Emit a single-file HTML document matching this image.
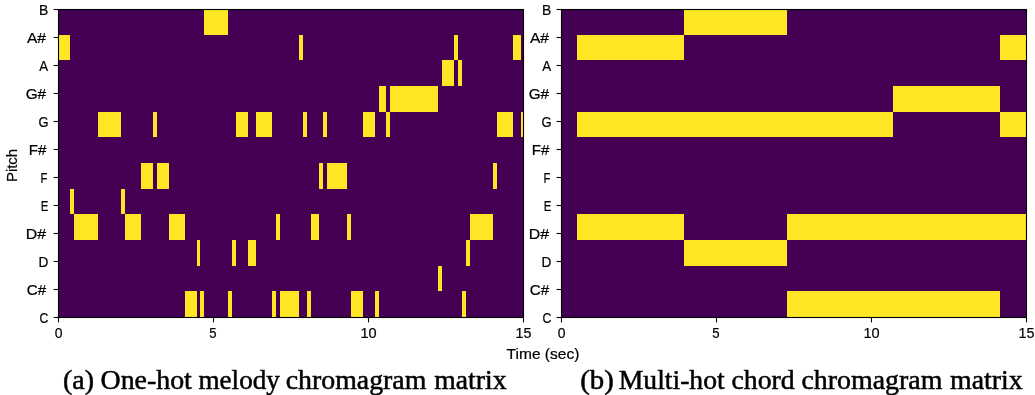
<!DOCTYPE html>
<html><head><meta charset="utf-8"><title>chromagram</title>
<style>
html,body{margin:0;padding:0;background:#fff;}
body{width:1035px;height:395px;overflow:hidden;font-family:"Liberation Sans",sans-serif;}
svg{display:block;position:absolute;left:0;top:0;}
.t{font-family:"Liberation Sans",sans-serif;fill:#000;stroke:#000;stroke-width:0.22px;}
.c{font-family:"Liberation Serif",serif;fill:#000;}
</style></head><body>
<svg width="1035" height="395" viewBox="0 0 1035 395">
<rect x="0" y="0" width="1035" height="395" fill="#fff"/>
<rect x="58.5" y="9.5" width="465.00" height="308.00" fill="#440154"/>
<rect x="561.5" y="9.5" width="465.00" height="308.00" fill="#440154"/>
<g fill="#fde725" shape-rendering="auto">
<rect x="58.5" y="35" width="11.5" height="25"/>
<rect x="70" y="189" width="4" height="25"/>
<rect x="74" y="214" width="24" height="26"/>
<rect x="98" y="112" width="23" height="25"/>
<rect x="121" y="189" width="4" height="25"/>
<rect x="125" y="214" width="16" height="26"/>
<rect x="141" y="163" width="12" height="26"/>
<rect x="153" y="112" width="4" height="25"/>
<rect x="157" y="163" width="12" height="26"/>
<rect x="169" y="214" width="16" height="26"/>
<rect x="185" y="291" width="12" height="26.5"/>
<rect x="197" y="240" width="3" height="26"/>
<rect x="200" y="291" width="4" height="26.5"/>
<rect x="204" y="9.5" width="24" height="25.5"/>
<rect x="228" y="291" width="4" height="26.5"/>
<rect x="232" y="240" width="4" height="26"/>
<rect x="236" y="112" width="12" height="25"/>
<rect x="248" y="240" width="8" height="26"/>
<rect x="256" y="112" width="16" height="25"/>
<rect x="272" y="291" width="4" height="26.5"/>
<rect x="276" y="214" width="4" height="26"/>
<rect x="280" y="291" width="19" height="26.5"/>
<rect x="299" y="35" width="4" height="25"/>
<rect x="303" y="112" width="4" height="25"/>
<rect x="307" y="291" width="4" height="26.5"/>
<rect x="311" y="214" width="8" height="26"/>
<rect x="319" y="163" width="4" height="26"/>
<rect x="323" y="112" width="4" height="25"/>
<rect x="327" y="163" width="20" height="26"/>
<rect x="347" y="214" width="4" height="26"/>
<rect x="351" y="291" width="12" height="26.5"/>
<rect x="363" y="112" width="12" height="25"/>
<rect x="375" y="291" width="4" height="26.5"/>
<rect x="379" y="86" width="7" height="26"/>
<rect x="386" y="112" width="4" height="25"/>
<rect x="390" y="86" width="48" height="26"/>
<rect x="438" y="266" width="4" height="25"/>
<rect x="442" y="60" width="12" height="26"/>
<rect x="454" y="35" width="4" height="25"/>
<rect x="458" y="60" width="4" height="26"/>
<rect x="462" y="291" width="4" height="26.5"/>
<rect x="466" y="240" width="4" height="26"/>
<rect x="470" y="214" width="23" height="26"/>
<rect x="493" y="163" width="4" height="26"/>
<rect x="497" y="112" width="16" height="25"/>
<rect x="513" y="35" width="8" height="25"/>
<rect x="521" y="112" width="2.5" height="25"/>
<rect x="684" y="9.5" width="103" height="25.5"/>
<rect x="577" y="35" width="107" height="25"/>
<rect x="1000" y="35" width="26.5" height="25"/>
<rect x="893" y="86" width="107" height="26"/>
<rect x="577" y="112" width="316" height="25"/>
<rect x="1000" y="112" width="26.5" height="25"/>
<rect x="577" y="214" width="107" height="26"/>
<rect x="787" y="214" width="239.5" height="26"/>
<rect x="684" y="240" width="103" height="26"/>
<rect x="787" y="291" width="213" height="26.5"/>
</g>
<g stroke="#000" stroke-width="1.1" fill="none" stroke-linecap="butt">
<rect x="58.5" y="9.5" width="465.00" height="308.00" />
<line x1="53.60" y1="9.50" x2="58.5" y2="9.50"/>
<line x1="53.60" y1="37.50" x2="58.5" y2="37.50"/>
<line x1="53.60" y1="65.50" x2="58.5" y2="65.50"/>
<line x1="53.60" y1="93.50" x2="58.5" y2="93.50"/>
<line x1="53.60" y1="121.50" x2="58.5" y2="121.50"/>
<line x1="53.60" y1="149.50" x2="58.5" y2="149.50"/>
<line x1="53.60" y1="177.50" x2="58.5" y2="177.50"/>
<line x1="53.60" y1="205.50" x2="58.5" y2="205.50"/>
<line x1="53.60" y1="233.50" x2="58.5" y2="233.50"/>
<line x1="53.60" y1="261.50" x2="58.5" y2="261.50"/>
<line x1="53.60" y1="289.50" x2="58.5" y2="289.50"/>
<line x1="53.60" y1="317.50" x2="58.5" y2="317.50"/>
<line x1="58.50" y1="317.5" x2="58.50" y2="322.40"/>
<line x1="213.50" y1="317.5" x2="213.50" y2="322.40"/>
<line x1="368.50" y1="317.5" x2="368.50" y2="322.40"/>
<line x1="523.50" y1="317.5" x2="523.50" y2="322.40"/>
<rect x="561.5" y="9.5" width="465.00" height="308.00" />
<line x1="556.60" y1="9.50" x2="561.5" y2="9.50"/>
<line x1="556.60" y1="37.50" x2="561.5" y2="37.50"/>
<line x1="556.60" y1="65.50" x2="561.5" y2="65.50"/>
<line x1="556.60" y1="93.50" x2="561.5" y2="93.50"/>
<line x1="556.60" y1="121.50" x2="561.5" y2="121.50"/>
<line x1="556.60" y1="149.50" x2="561.5" y2="149.50"/>
<line x1="556.60" y1="177.50" x2="561.5" y2="177.50"/>
<line x1="556.60" y1="205.50" x2="561.5" y2="205.50"/>
<line x1="556.60" y1="233.50" x2="561.5" y2="233.50"/>
<line x1="556.60" y1="261.50" x2="561.5" y2="261.50"/>
<line x1="556.60" y1="289.50" x2="561.5" y2="289.50"/>
<line x1="556.60" y1="317.50" x2="561.5" y2="317.50"/>
<line x1="561.50" y1="317.5" x2="561.50" y2="322.40"/>
<line x1="716.50" y1="317.5" x2="716.50" y2="322.40"/>
<line x1="871.50" y1="317.5" x2="871.50" y2="322.40"/>
<line x1="1026.50" y1="317.5" x2="1026.50" y2="322.40"/>
</g>
<g opacity="0.999">
<text class="t" font-size="13.99" transform="translate(39.11,14.61) scale(0.9941,1)">B</text>
<text class="t" font-size="13.99" transform="translate(26.98,42.61) scale(1.1154,1)">A#</text>
<text class="t" font-size="13.99" transform="translate(39.35,70.61) scale(0.9507,1)">A</text>
<text class="t" font-size="13.99" transform="translate(25.68,98.61) scale(1.0922,1)">G#</text>
<text class="t" font-size="13.99" transform="translate(38.57,126.61) scale(0.9205,1)">G</text>
<text class="t" font-size="13.99" transform="translate(28.70,154.61) scale(1.0820,1)">F#</text>
<text class="t" font-size="13.99" transform="translate(40.57,182.61) scale(0.8089,1)">F</text>
<text class="t" font-size="13.99" transform="translate(40.72,210.61) scale(0.8179,1)">E</text>
<text class="t" font-size="13.99" transform="translate(25.77,238.61) scale(1.1352,1)">D#</text>
<text class="t" font-size="13.99" transform="translate(38.41,266.61) scale(0.9764,1)">D</text>
<text class="t" font-size="13.99" transform="translate(26.69,294.61) scale(1.0832,1)">C#</text>
<text class="t" font-size="13.99" transform="translate(39.60,322.61) scale(0.8761,1)">C</text>
<text class="t" font-size="13.99" transform="translate(54.63,337.60) scale(0.9949,1)">0</text>
<text class="t" font-size="13.99" transform="translate(209.29,337.60) scale(0.9389,1)">5</text>
<text class="t" font-size="13.99" transform="translate(360.45,337.60) scale(1.0376,1)">10</text>
<text class="t" font-size="13.99" transform="translate(515.46,337.60) scale(1.0207,1)">15</text>
<text class="t" font-size="13.99" transform="translate(542.11,14.61) scale(0.9941,1)">B</text>
<text class="t" font-size="13.99" transform="translate(529.98,42.61) scale(1.1154,1)">A#</text>
<text class="t" font-size="13.99" transform="translate(542.35,70.61) scale(0.9507,1)">A</text>
<text class="t" font-size="13.99" transform="translate(528.68,98.61) scale(1.0922,1)">G#</text>
<text class="t" font-size="13.99" transform="translate(541.57,126.61) scale(0.9205,1)">G</text>
<text class="t" font-size="13.99" transform="translate(531.70,154.61) scale(1.0820,1)">F#</text>
<text class="t" font-size="13.99" transform="translate(543.57,182.61) scale(0.8089,1)">F</text>
<text class="t" font-size="13.99" transform="translate(543.72,210.61) scale(0.8179,1)">E</text>
<text class="t" font-size="13.99" transform="translate(528.77,238.61) scale(1.1352,1)">D#</text>
<text class="t" font-size="13.99" transform="translate(541.41,266.61) scale(0.9764,1)">D</text>
<text class="t" font-size="13.99" transform="translate(529.69,294.61) scale(1.0832,1)">C#</text>
<text class="t" font-size="13.99" transform="translate(542.60,322.61) scale(0.8761,1)">C</text>
<text class="t" font-size="13.99" transform="translate(557.63,337.60) scale(0.9949,1)">0</text>
<text class="t" font-size="13.99" transform="translate(712.29,337.60) scale(0.9389,1)">5</text>
<text class="t" font-size="13.99" transform="translate(863.45,337.60) scale(1.0376,1)">10</text>
<text class="t" font-size="13.99" transform="translate(1018.46,337.60) scale(1.0207,1)">15</text>
<text class="t" font-size="14.41" transform="translate(506.60,358.60) scale(1.0788,1)">Time (sec)</text>
<text class="t" font-size="14.41" transform="translate(17.00,165.40) rotate(-90) translate(-16.59,0.00) scale(1.0334,1)">Pitch</text>
<text class="c" font-size="26.5" stroke="#000" stroke-width="0.5" transform="translate(63.02,388.60) scale(1.0523,1)">(a)</text>
<text class="c" font-size="26.5" stroke="#000" stroke-width="0.5" transform="translate(100.51,388.60) scale(1.0526,1)">One-hot</text>
<text class="c" font-size="26.5" stroke="#000" stroke-width="0.5" transform="translate(198.48,388.60) scale(1.0238,1)">melody</text>
<text class="c" font-size="26.5" stroke="#000" stroke-width="0.5" transform="translate(285.69,388.60) scale(1.0507,1)">chromagram</text>
<text class="c" font-size="26.5" stroke="#000" stroke-width="0.5" transform="translate(434.17,388.60) scale(1.0469,1)">matrix</text>
<text class="c" font-size="26.5" stroke="#000" stroke-width="0.5" transform="translate(580.18,388.60) scale(1.0885,1)">(b)</text>
<text class="c" font-size="26.5" stroke="#000" stroke-width="0.5" transform="translate(618.75,388.60) scale(1.0430,1)">Multi-hot</text>
<text class="c" font-size="26.5" stroke="#000" stroke-width="0.5" transform="translate(731.49,388.60) scale(1.0474,1)">chord</text>
<text class="c" font-size="26.5" stroke="#000" stroke-width="0.5" transform="translate(801.49,388.60) scale(1.0529,1)">chromagram</text>
<text class="c" font-size="26.5" stroke="#000" stroke-width="0.5" transform="translate(949.96,388.60) scale(1.0528,1)">matrix</text>
</g>
</svg></body></html>
